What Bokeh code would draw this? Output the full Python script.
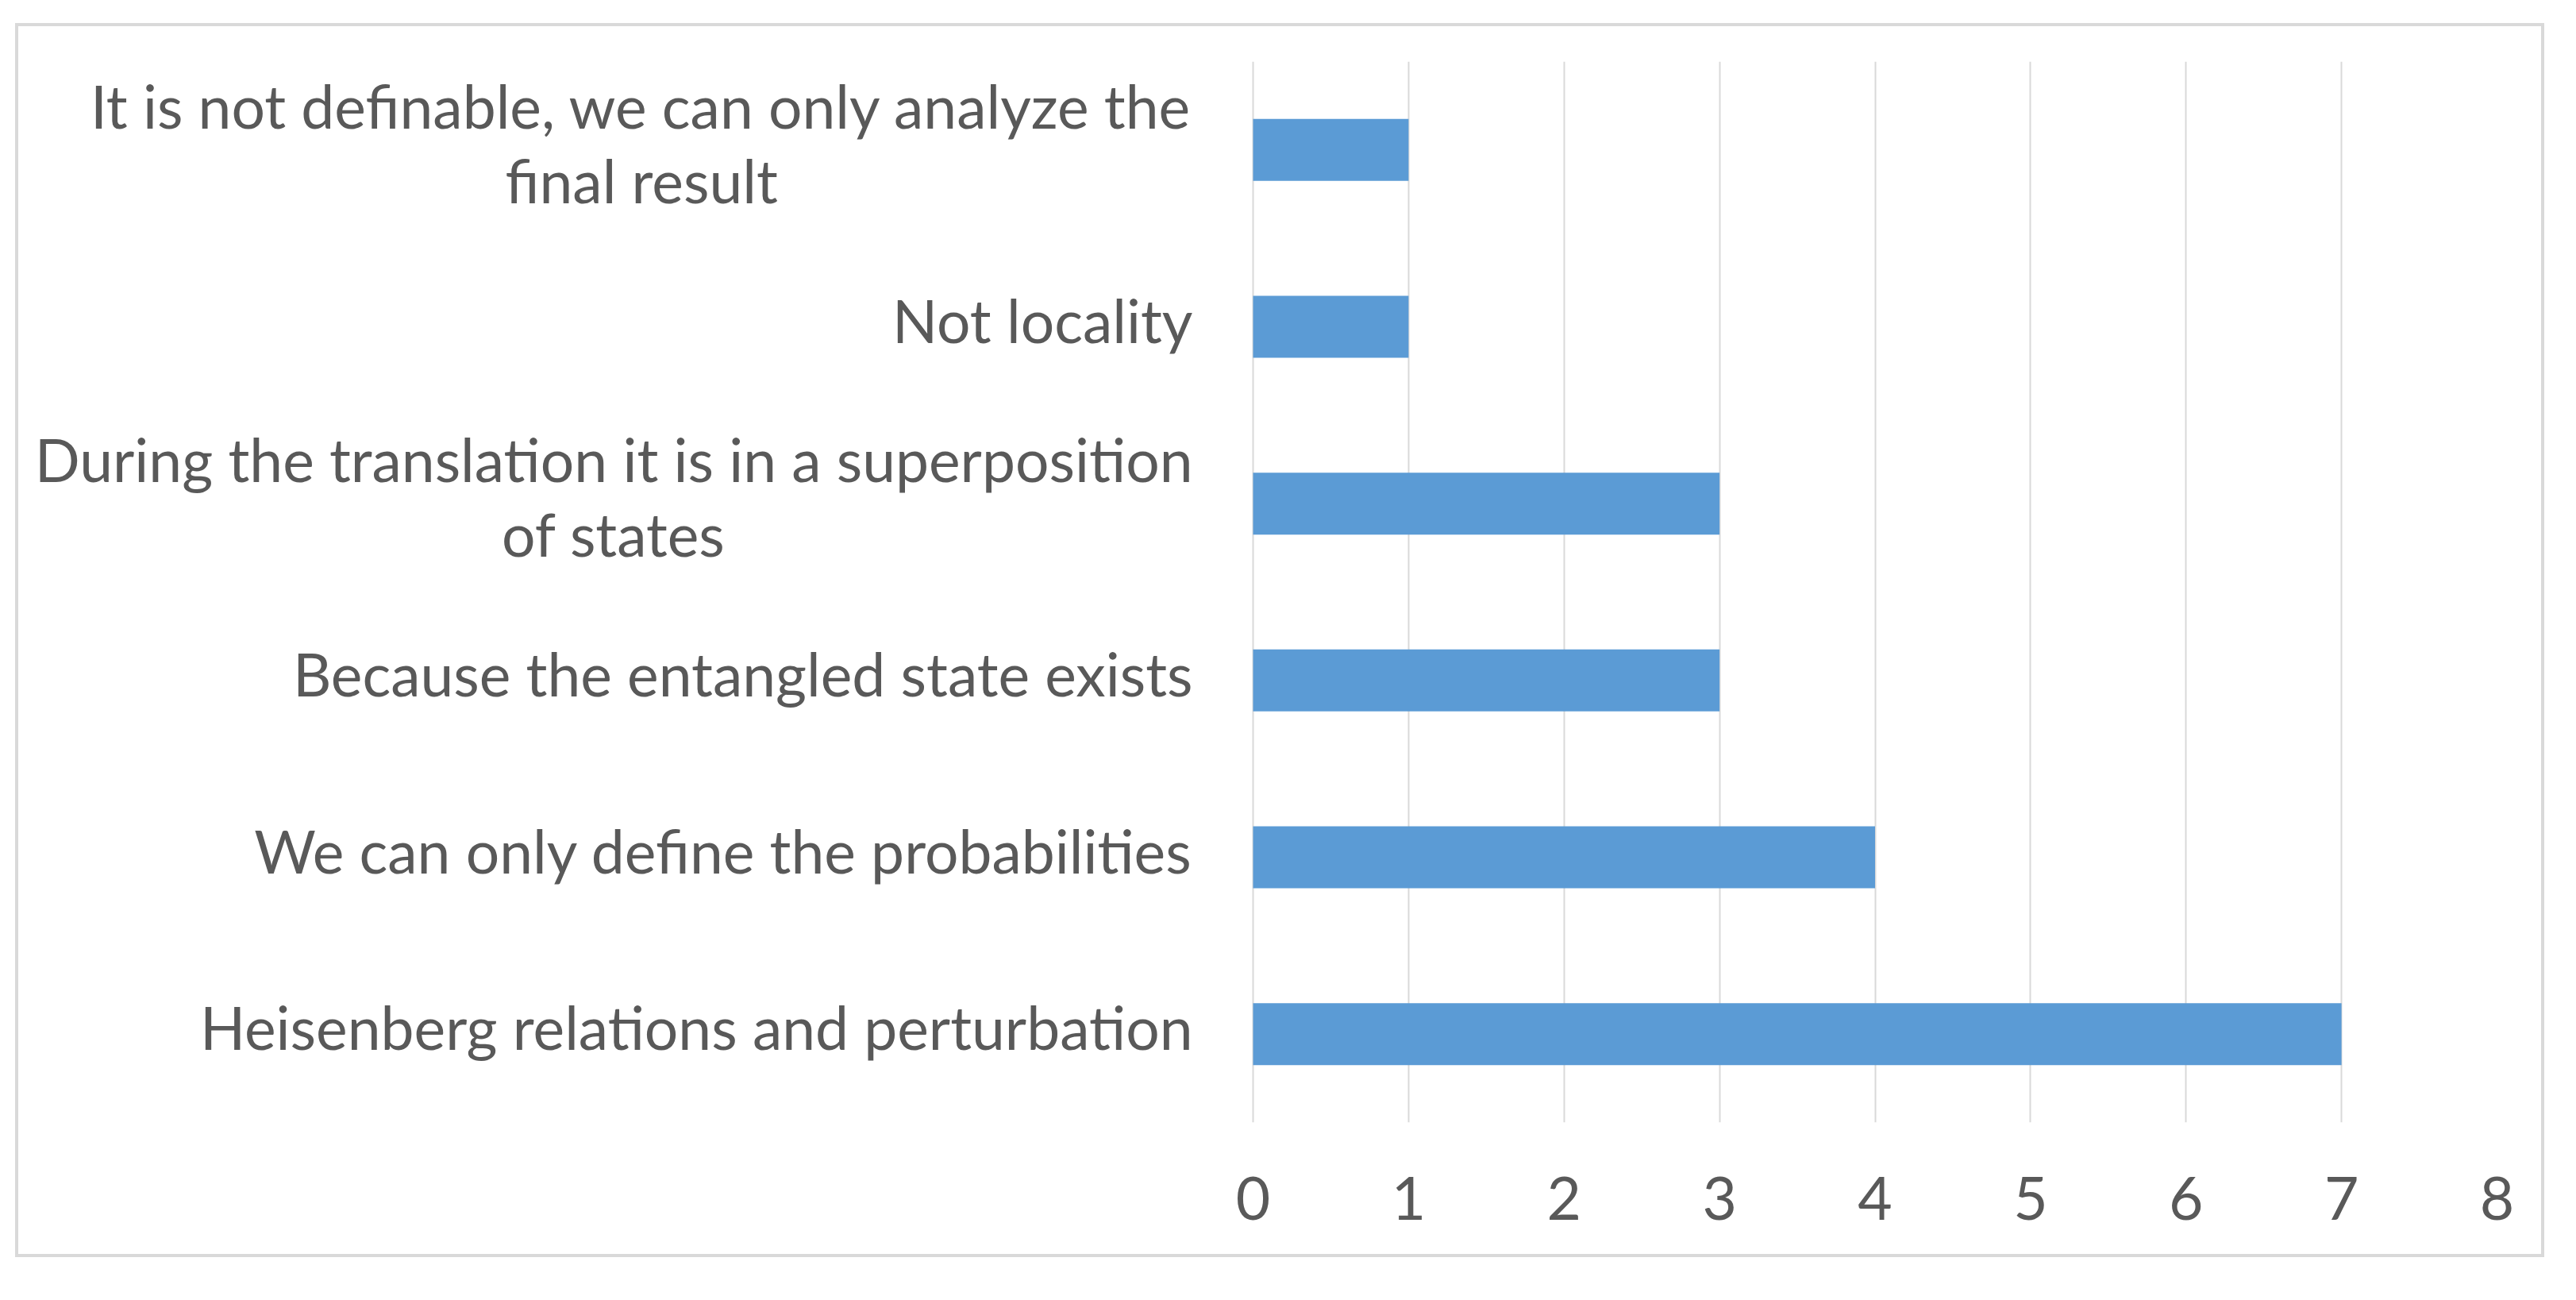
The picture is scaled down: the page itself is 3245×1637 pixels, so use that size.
from bokeh.plotting import figure
from bokeh.layouts import column, row
from bokeh.models import ColumnDataSource, FactorRange, Range1d, FixedTicker, Spacer
from bokeh.core.properties import value
from bokeh.embed import file_html
from bokeh.resources import INLINE

categories = [
    "Heisenberg relations and perturbation",
    "We can only define the probabilities",
    "Because the entangled state exists",
    "During the translation it is in a superposition\nof states",
    "Not locality",
    "It is not definable, we can only analyze the\nfinal result",
]
values = [7, 4, 3, 3, 1, 1]
x_ticks = [0, 1, 2, 3, 4, 5, 6, 7, 8]

FONT = "Lato"
TEXT = "#595959"
GRID = "#D9D9D9"

W, H = 3186, 1554
BORDER_R, BORDER_T, BORDER_B = 64, 44, 174
ZERO_PX = 1555                      # distance from frame left to value 0
unit = (W - BORDER_R - ZERO_PX) / 8.0
x_start = -ZERO_PX / unit

src = ColumnDataSource(dict(cat=categories, val=values, zero=[0] * len(values)))

p = figure(
    width=W, height=H,
    y_range=FactorRange(*categories, range_padding=0),
    x_range=Range1d(x_start, 8),
    output_backend="svg", toolbar_location=None,
    min_border_left=0, min_border_right=BORDER_R,
    min_border_top=BORDER_T, min_border_bottom=BORDER_B,
)
p.styles = {"border": "4px solid #D9D9D9"}

p.hbar(y="cat", left="zero", right="val", height=0.35, source=src,
       fill_color="#5B9BD5", line_color=None)

p.text(x="zero", y="cat", text="cat", source=src,
       anchor="center_right", text_align="center", text_baseline="middle",
       x_offset=-76, y_offset=-9, text_font=value(FONT), text_font_size="75px",
       text_color=TEXT, text_line_height=1.05)

p.outline_line_color = None
p.background_fill_color = "white"
p.border_fill_color = "white"

p.ygrid.grid_line_color = None
p.yaxis.visible = False
p.xgrid.grid_line_color = GRID
p.xgrid.grid_line_width = 2
p.xgrid.ticker = FixedTicker(ticks=x_ticks)
p.xaxis.ticker = FixedTicker(ticks=x_ticks)

ax = p.xaxis[0]
ax.axis_line_color = None
ax.major_tick_line_color = None
ax.minor_tick_line_color = None
ax.major_label_text_font = FONT
ax.major_label_text_font_size = "75px"
ax.major_label_text_color = TEXT
ax.major_label_standoff = 62

layout = column(Spacer(height=29), row(Spacer(width=19), p))

open("out.html", "w").write(file_html(layout, INLINE))
